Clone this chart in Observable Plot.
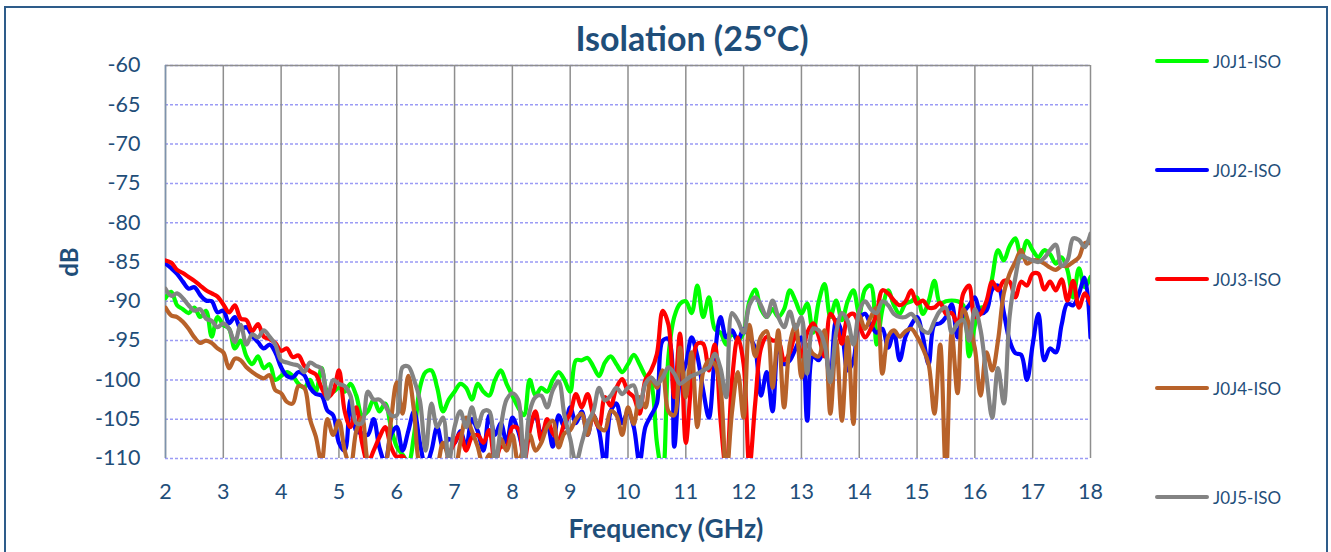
<!DOCTYPE html>
<html><head><meta charset="utf-8">
<script src="https://cdn.jsdelivr.net/npm/d3@7"></script>
<script src="https://cdn.jsdelivr.net/npm/@observablehq/plot@0.6"></script>
<style>
body{margin:0;background:#fff;}
#wrap{position:relative;width:1331px;height:552px;overflow:hidden;font-family:Lato,"Open Sans",sans-serif;color:#1F4E79;background:#fff;}
#frame{position:absolute;left:4px;top:6px;width:1324px;height:580px;border:2px solid #2E5C8A;box-sizing:border-box;pointer-events:none;}
#chart{position:absolute;left:0;top:0;}
.lbl{position:absolute;white-space:nowrap;font-weight:bold;}
#title{left:692px;top:37px;transform:translate(-50%,-50%);font-size:34px;}
#xlabel{left:666px;top:528px;transform:translate(-50%,-50%);font-size:26.5px;}
#ylabel{left:68px;top:262px;transform:translate(-50%,-50%) rotate(-90deg);font-size:24px;}
.leg{position:absolute;left:1155px;height:20px;display:flex;align-items:center;font-size:17px;white-space:nowrap;}
.leg span.sw{display:inline-block;width:54px;height:4px;border-radius:2px;margin-right:4px;}
</style>
</head><body>
<div id="wrap">
  <div id="chart"></div>
  <div id="title" class="lbl">Isolation (25°C)</div>
  <div id="xlabel" class="lbl">Frequency (GHz)</div>
  <div id="ylabel" class="lbl">dB</div>
  <div id="legend"></div>
  <div id="frame"></div>
</div>
<script>
// Frequency grid: 2.0 … 18.0 GHz in 0.1 GHz steps (161 points)
const freqStart = 2, freqStep = 0.1, freqCount = 161;

const seriesNames = ["J0J1-ISO","J0J2-ISO","J0J3-ISO","J0J4-ISO","J0J5-ISO"];
const seriesColors = ["#00FF00","#0000FF","#FF0000","#B8622A","#838383"];
const xTicks = [2,3,4,5,6,7,8,9,10,11,12,13,14,15,16,17,18];
const yTicks = [-110,-105,-100,-95,-90,-85,-80,-75,-70,-65,-60];

const j0j1 = [
-89.6,-88.8,-90.5,-91,-91.5,-90.8,-92,-91.2,-94.5,-92,
-93,-93.5,-96,-95,-97,-98,-97,-98.5,-98,-100,
-99.5,-99,-99.5,-100.5,-101,-100,-101.5,-98.5,-101.5,-101.5,
-101,-101.5,-100.5,-102,-104.5,-104,-102.5,-104,-103,-106,
-108.5,-109.5,-110.5,-107,-101,-99,-98.8,-101,-104,-102.5,
-101.5,-100.5,-101,-102.5,-100.5,-101.5,-102,-100,-98.8,-100.5,
-102,-103.5,-104.5,-100,-102,-101,-101.5,-100,-99,-100,
-101.5,-97.5,-97.5,-97.2,-98.3,-99.5,-97.8,-97,-98,-99,
-98,-96.8,-98,-99.5,-100.5,-108,-112,-97,-92,-90.3,
-90,-91.5,-88,-92,-89.5,-93.5,-94,-95.5,-94,-95,
-94,-90,-88.5,-91,-92,-91,-92,-91,-88.6,-90,
-91.6,-90.3,-94,-90,-87.8,-92,-89.9,-92.4,-90,-88.6,
-91.6,-88.5,-88,-95.5,-91,-88.6,-90.5,-91.6,-90.3,-90,
-89.5,-91.6,-90,-87.4,-90.3,-90,-89.9,-90,-90.5,-97,
-93,-90.8,-90.8,-87,-83.5,-84.8,-83,-82,-84.4,-82.3,
-83.5,-84.4,-83.5,-84,-85.2,-84.4,-86,-89.5,-85.8,-88.2,
-86.9];

const j0j2 = [
-85.2,-85.8,-86.5,-87.5,-88.4,-88.2,-89.2,-89.9,-90,-91.4,
-91.2,-92.8,-92,-93.5,-93.3,-94.4,-95.2,-96,-95.5,-96.5,
-98.4,-99.5,-99.7,-99,-99.4,-101,-101.8,-102,-103.9,-104.5,
-108,-109,-102.5,-106.5,-106.8,-107,-105,-108.6,-110.5,-107,
-106,-109,-106.5,-104,-108,-111,-109,-106,-108.5,-107.5,
-108,-106.5,-108.5,-105,-106.5,-109,-104.5,-107,-105.5,-108,
-104.8,-106.5,-109,-106,-104.5,-107,-105.5,-108.5,-104.5,-106,
-103.5,-105.5,-104,-107,-104.5,-106.5,-111,-104,-103,-105.5,
-104,-106,-110.5,-106,-104.5,-103,-95,-94.8,-108.5,-100,
-98,-94.6,-97,-101.3,-104.8,-97.1,-92,-94.6,-93.7,-95,
-93.5,-94.5,-96,-102,-99,-104,-95.4,-98,-97.5,-96,
-94.6,-105.2,-97,-97.5,-96,-100,-92.4,-94,-98.8,-97.5,
-92.3,-91.6,-93,-94,-93.5,-95.9,-94,-97.5,-94.5,-93,
-92,-94.5,-98,-93,-92.8,-92,-90.4,-94.6,-91.5,-90.5,
-89.5,-91.5,-91.2,-88.5,-88,-91.4,-95,-96.6,-96.8,-100,
-95.5,-91.6,-97.5,-96,-96.5,-93,-90.3,-90.5,-89,-87,
-94.6];

const j0j3 = [
-84.8,-85.1,-86,-86.4,-86.9,-87.4,-88,-88.6,-89,-89.4,
-90.4,-91.4,-90.5,-92.2,-92.4,-93.8,-92.9,-94.5,-94.8,-95.3,
-96.3,-96,-97.1,-96.9,-98.2,-98.9,-99.3,-101,-102.2,-101.5,
-98.8,-104,-106,-103.5,-108,-110.5,-109,-107.3,-106,-108.5,
-109.8,-109.7,-111,-112,-111,-110.5,-112,-110.5,-111,-109.5,
-108,-106.8,-109,-107.3,-107,-108,-106.4,-110.5,-108.5,-108.5,
-106,-106.2,-110.5,-106.5,-104,-107.7,-105,-106.8,-107.5,-105.5,
-104.3,-101.8,-103.5,-101.8,-104.5,-106,-102.2,-103.3,-101,-99.9,
-101.5,-102.2,-104.3,-100,-98.8,-96.7,-91.2,-93,-102.2,-94.1,
-108,-100,-95.4,-95.4,-98.8,-95.5,-105,-111.5,-100,-94.6,
-98,-111,-103,-96,-94.5,-95,-95,-97.5,-96.5,-94.1,
-97,-94,-92.8,-94.5,-97,-91.6,-92.8,-95.4,-92,-91.6,
-93,-94.6,-93.5,-91.6,-88.6,-89,-89.9,-90.5,-90,-88.6,
-90.3,-89.9,-90.8,-90.8,-90.2,-91.6,-91.5,-92.8,-89,-88,
-92,-91.6,-90,-87.5,-88.6,-87.4,-87.5,-89.5,-87.5,-88,
-86.5,-86.5,-88.5,-87.5,-88.6,-87.2,-89.9,-87.4,-90.8,-89,
-90.3];

const j0j4 = [
-90.8,-91.8,-92,-92.6,-93.5,-94.6,-95.3,-95,-95.3,-96,
-96.5,-98.5,-97.3,-97.5,-98.4,-99,-99.5,-99.8,-99.4,-101.3,
-101.7,-102.8,-103,-100.8,-101,-105,-107.2,-110.5,-105,-107,
-105.2,-109,-111,-106.5,-104.8,-110.5,-112,-112,-111,-105.2,
-100.3,-104.3,-99.5,-104,-111,-112,-112,-111,-108,-110,
-111.5,-108,-104.8,-106.5,-108.5,-111,-109.5,-111,-107.5,-109,
-107,-110.5,-108.5,-107,-109,-108,-106,-105.2,-108.6,-106.8,
-106.4,-105,-104.3,-107,-104.5,-106,-106.4,-104,-104.5,-107,
-103.5,-105.6,-102.2,-103.5,-99.7,-101,-98.8,-104,-104.5,-95.9,
-102.2,-96.5,-106,-99,-97.5,-98,-101,-112,-104,-99,
-104.8,-93,-97,-94.5,-93.8,-101,-93.7,-103.5,-95.4,-93,
-99.7,-95.5,-96.7,-97,-93.7,-104.3,-95,-105.2,-94.6,-105.6,
-91.8,-93.5,-92,-90.8,-99.2,-94.5,-93.7,-94.5,-93.8,-93.5,
-94.5,-96,-98,-104.3,-95.5,-112,-94,-101.7,-91,-93,
-96,-102,-96.5,-98.8,-95,-89,-86.5,-85,-83.5,-85.2,
-84.8,-84.8,-85.2,-85.7,-86,-85.5,-85.5,-85,-84.4,-82.6,
-82.6];

const j0j5 = [
-88.4,-89.3,-89,-89.6,-90.5,-91.2,-91,-92.2,-92.5,-93.3,
-92.8,-93.5,-95.2,-93,-95.5,-94.2,-94.6,-93.7,-94.5,-95.5,
-97.5,-97.8,-98,-98.2,-99,-97.8,-98.2,-98.6,-102.4,-100,
-100.5,-100.8,-102,-105.5,-105.5,-101.5,-102.5,-102.5,-103.3,-104.5,
-104.5,-98.4,-98.3,-100,-102.6,-109,-103,-106,-104.8,-110.5,
-106,-104,-106,-103.5,-106,-104,-104,-111,-106,-102.5,
-101.7,-102.5,-111,-104,-102.2,-102,-103.5,-101.3,-100.2,-104.5,
-107.5,-110.5,-108,-105.5,-104,-101,-102.6,-102,-101,-101.8,
-101,-100.7,-103.5,-100.5,-99.7,-100.5,-99.7,-98.4,-99.2,-100.5,
-100,-99.5,-99.2,-98.8,-98.4,-96.7,-98.5,-102.2,-91.5,-92.5,
-94,-90.5,-89.5,-90.5,-92,-89.9,-92,-93.3,-91.3,-93.5,
-92,-99.2,-93.5,-93.7,-95.5,-100.3,-94,-91.5,-92.5,-95.5,
-91.2,-90,-91,-91.5,-90,-90.5,-91.6,-92,-92,-91.6,
-92.5,-93.7,-94,-92.5,-91.2,-90.8,-94,-92.8,-92.4,-95,
-91,-93.7,-99.5,-104.8,-98.5,-103,-92,-87,-84.2,-84.5,
-84.8,-85,-84.5,-83.5,-82.8,-85.5,-84.8,-82,-82.2,-83.1,
-81.4];

const seriesValues = [j0j1, j0j2, j0j3, j0j4, j0j5];
const freq = d3.range(freqCount).map(i => +(freqStart + i * freqStep).toFixed(1));
const data = seriesValues.flatMap((vals, s) =>
  vals.map((v, i) => ({f: freq[i], db: v, name: seriesNames[s]})));

const textColor = "#1F4E79";
const fmt = d => String(d);

const plot = Plot.plot({
  width: 1331, height: 552,
  marginLeft: 165, marginRight: 241, marginTop: 65, marginBottom: 94,
  x: {domain: [2, 18]},
  y: {domain: [-110, -60]},
  color: {domain: seriesNames, range: seriesColors},
  style: {fontFamily: "Lato, 'Open Sans', sans-serif", fontSize: "21.5px", color: textColor, background: "transparent", overflow: "visible"},
  marks: [
    Plot.ruleY(yTicks, {y: d => d, stroke: "#9b9bf5", strokeWidth: 1.5, strokeDasharray: "3,2"}),
    Plot.ruleX(xTicks, {x: d => d, stroke: "#8e8e8e", strokeWidth: 1.5}),
    Plot.ruleY([-60], {y: d => d, stroke: "#8e8e8e", strokeWidth: 1.5}),
    Plot.ruleX([2], {x: d => d, stroke: "#7d93ad", strokeWidth: 1.5}),
    Plot.axisX({ticks: xTicks, tickSize: 0, tickPadding: 25, tickFormat: fmt, label: null, fill: textColor}),
    Plot.axisY({ticks: yTicks, tickSize: 0, tickPadding: 25, tickFormat: fmt, label: null, fill: textColor}),
    Plot.line(data, {x: "f", y: "db", z: "name", stroke: "name", strokeWidth: 4.2, curve: "catmull-rom", clip: true, strokeLinejoin: "round"})
  ]
});
document.getElementById("chart").appendChild(plot);

// legend
const legendY = [61, 170, 279, 388, 497];
const leg = document.getElementById("legend");
seriesNames.forEach((n, i) => {
  const d = document.createElement("div");
  d.className = "leg";
  d.style.top = (legendY[i] - 10) + "px";
  d.innerHTML = `<span class="sw" style="background:${seriesColors[i]}"></span><span>${n}</span>`;
  leg.appendChild(d);
});
</script>
</body></html>
